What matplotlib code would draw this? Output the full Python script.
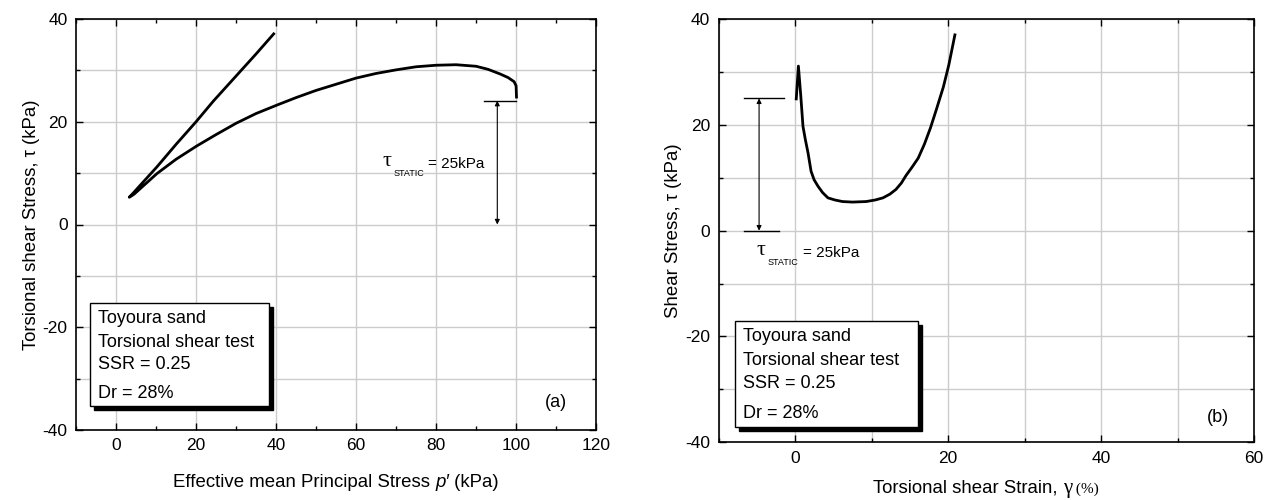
import matplotlib
matplotlib.use("Agg")
import matplotlib.pyplot as plt
from matplotlib.patches import Rectangle
from matplotlib.ticker import MultipleLocator
from matplotlib.offsetbox import TextArea, HPacker, AnchoredOffsetbox
import matplotlib.transforms as mtransforms

plt.rcParams['font.family'] = ['Liberation Sans', 'DejaVu Sans']
plt.rcParams['axes.unicode_minus'] = False

# (a) effective stress path (starts at p'=100, tau=25)
p_eff = [100.1, 100.0, 99.5, 98.0, 96.0, 93.0, 90.0, 85.0, 80.0, 75.0, 70.0, 65.0,
         60.0, 55.0, 50.0, 45.0, 40.4, 35.0, 30.0, 25.0, 20.2, 15.0, 10.2, 6.5,
         4.5, 3.3, 4.5, 6.0, 10.2, 15.0, 20.0, 24.3, 30.0, 35.0, 39.4]
tau_a = [24.8, 27.0, 27.8, 28.6, 29.3, 30.2, 30.8, 31.1, 31.0, 30.7, 30.1, 29.4,
         28.5, 27.3, 26.1, 24.7, 23.3, 21.6, 19.7, 17.5, 15.3, 12.7, 9.9, 7.3,
         5.9, 5.3, 6.3, 7.6, 11.2, 15.6, 20.0, 24.0, 28.9, 33.2, 37.1]

# (b) stress-strain
gamma = [0.16, 0.44, 0.75, 1.04, 1.35, 1.7, 2.1, 2.5, 3.0, 3.6, 4.3, 5.2, 6.2,
         7.5, 9.3, 10.5, 11.5, 12.4, 13.2, 13.9, 14.5, 15.3, 16.1, 16.9, 17.7,
         18.5, 19.4, 20.1, 20.9]
tau_b = [24.9, 31.1, 25.5, 19.7, 17.2, 14.7, 11.2, 9.6, 8.4, 7.2, 6.2, 5.8, 5.5,
         5.4, 5.5, 5.8, 6.2, 6.9, 7.8, 9.0, 10.4, 12.0, 13.7, 16.3, 19.4,
         23.0, 27.2, 31.3, 37.0]

box_lines = ["Toyoura sand", "Torsional shear test", "SSR = 0.25", "Dr = 28%"]

fig = plt.figure(figsize=(12.74, 5.0), dpi=100)
ax1 = fig.add_axes([0.0597, 0.14, 0.4082, 0.822])
ax2 = fig.add_axes([0.564, 0.1154, 0.4203, 0.8466])


def style(ax):
    for s in ax.spines.values():
        s.set_linewidth(1.2)
    ax.tick_params(which='both', direction='in', top=True, right=True,
                   labelsize=12.5, pad=6)
    ax.tick_params(which='major', length=5, width=1)
    ax.tick_params(which='minor', length=3, width=1)
    ax.set_axisbelow(True)


def info_box(ax, x0, y0, x1, y1, ys, tx):
    shadow = mtransforms.offset_copy(ax.transData, fig=fig, x=4, y=-4, units='dots')
    ax.add_patch(Rectangle((x0, y0), x1 - x0, y1 - y0, facecolor='black',
                           edgecolor='black', transform=shadow, zorder=5))
    ax.add_patch(Rectangle((x0, y0), x1 - x0, y1 - y0, facecolor='white',
                           edgecolor='black', lw=1, zorder=6))
    for y, t in zip(ys, box_lines):
        ax.text(tx, y, t, fontsize=13, va='center', ha='left', zorder=7)


def tau_static(ax, x, y):
    ax.text(x, y, 'τ', fontsize=16, va='center', ha='left',
            family=['Liberation Serif', 'DejaVu Serif'])
    ax.annotate('STATIC', xy=(x, y), xytext=(8, -9), textcoords='offset points',
                fontsize=6.5, va='center', ha='left')
    ax.annotate('= 25kPa', xy=(x, y), xytext=(33, -2), textcoords='offset points',
                fontsize=11, va='center', ha='left')


def mixed_label(ax, parts, y):
    boxes = [TextArea(t, textprops=props) for t, props in parts]
    pack = HPacker(children=boxes, align='baseline', pad=0, sep=0)
    ab = AnchoredOffsetbox(loc='center', child=pack, pad=0, borderpad=0,
                           frameon=False, bbox_to_anchor=(0.5, y),
                           bbox_transform=ax.transAxes)
    ax.add_artist(ab)


sans = dict(fontsize=13.4, family=['Liberation Sans', 'DejaVu Sans'])
sans_it = dict(fontsize=13.4, family=['Liberation Sans', 'DejaVu Sans'], style='italic')
serif_big = dict(fontsize=15, family=['Liberation Serif', 'DejaVu Serif'])
serif_small = dict(fontsize=11, family=['Liberation Serif', 'DejaVu Serif'])

# ---- panel (a)
style(ax1)
ax1.set_xlim(-10, 120)
ax1.set_ylim(-40, 40)
ax1.xaxis.set_major_locator(MultipleLocator(20))
ax1.xaxis.set_minor_locator(MultipleLocator(10))
ax1.yaxis.set_major_locator(MultipleLocator(20))
ax1.yaxis.set_minor_locator(MultipleLocator(10))
ax1.grid(True, which='major', axis='x', color='#cccccc', lw=1)
ax1.grid(True, which='both', axis='y', color='#cccccc', lw=1)
ax1.plot(p_eff, tau_a, color='black', lw=2, solid_joinstyle='round')
ax1.plot([92.0, 99.9], [24.1, 24.1], color='black', lw=1)
ax1.annotate('', xy=(95.3, 0), xytext=(95.3, 24.1),
             arrowprops=dict(arrowstyle='<|-|>', color='black', lw=0.8,
                             mutation_scale=7, shrinkA=0, shrinkB=0))
tau_static(ax1, 66.5, 12.3)
info_box(ax1, -6.5, -35.4, 38.2, -15.3, [-18.2, -23.0, -27.3, -32.8], -4.4)
ax1.text(110, -34.6, '(a)', fontsize=13, ha='center', va='center')
mixed_label(ax1, [("Effective mean Principal Stress ", sans),
                  ("p\u2032", sans_it), (" (kPa)", sans)], -0.127)
ax1.set_ylabel('Torsional shear Stress, τ (kPa)', fontsize=13.4, labelpad=2)

# ---- panel (b)
style(ax2)
ax2.set_xlim(-10, 60)
ax2.set_ylim(-40, 40)
ax2.xaxis.set_major_locator(MultipleLocator(20))
ax2.xaxis.set_minor_locator(MultipleLocator(10))
ax2.yaxis.set_major_locator(MultipleLocator(20))
ax2.yaxis.set_minor_locator(MultipleLocator(10))
ax2.grid(True, which='both', color='#cccccc', lw=1)
ax2.plot(gamma, tau_b, color='black', lw=2, solid_joinstyle='round')
ax2.plot([-6.7, -1.4], [25, 25], color='black', lw=1)
ax2.plot([-6.7, -2.1], [0, 0], color='black', lw=1)
ax2.annotate('', xy=(-4.7, 0), xytext=(-4.7, 25),
             arrowprops=dict(arrowstyle='<|-|>', color='black', lw=0.8,
                             mutation_scale=7, shrinkA=0, shrinkB=0))
tau_static(ax2, -5.0, -3.7)
info_box(ax2, -7.8, -37.2, 16.1, -17.1, [-20.0, -24.6, -28.8, -34.5], -6.8)
ax2.text(55.3, -35.3, '(b)', fontsize=13, ha='center', va='center')
mixed_label(ax2, [("Torsional shear Strain, ", sans), ("γ", serif_big),
                  (" (%)", serif_small)], -0.108)
ax2.set_ylabel('Shear Stress, τ (kPa)', fontsize=13.4, labelpad=2)

fig.savefig('out.png', dpi=100)
